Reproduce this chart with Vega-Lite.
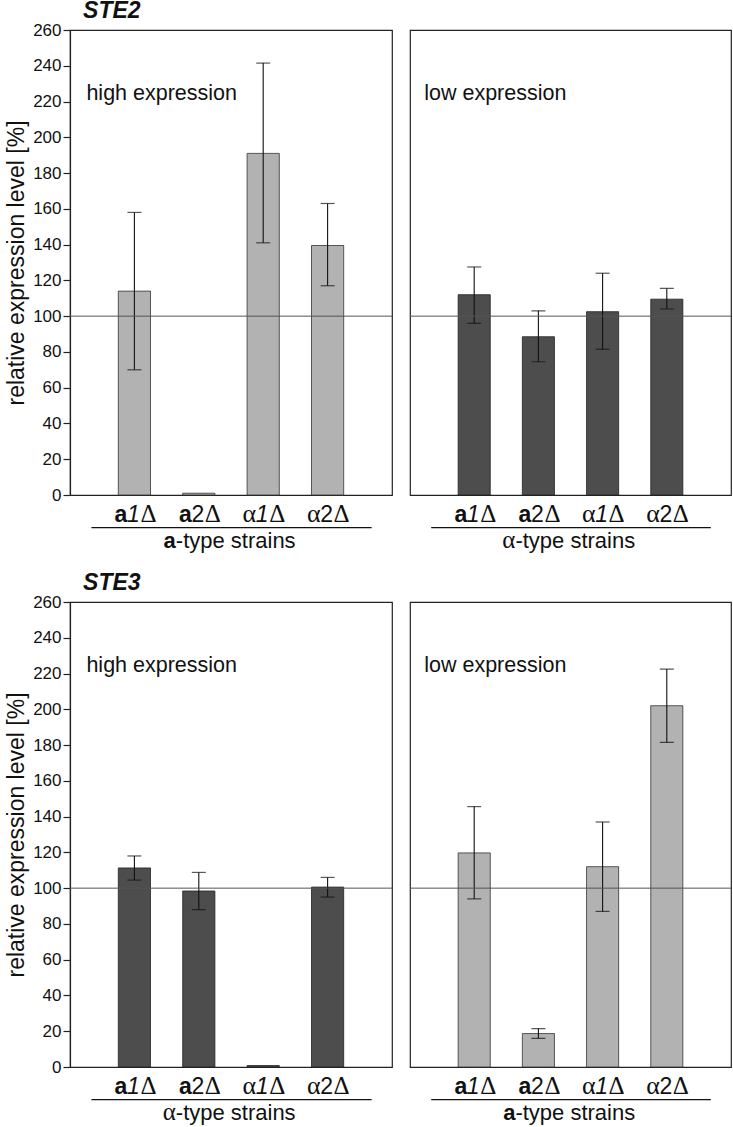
{
  "$schema": "https://vega.github.io/schema/vega-lite/v6.json",
  "padding": {"left": 5, "top": 0, "right": 0, "bottom": 0},
  "config": {
    "font": "Liberation Sans",
    "view": {"stroke": "#222", "strokeWidth": 1.2},
    "concat": {"spacing": 14},
    "axisY": {"labelOverlap": false}
  },
  "datasets": {
    "strains": [
      {"strain": "a1Δ", "pre": "a", "num": "1"},
      {"strain": "a2Δ", "pre": "a", "num": "2"},
      {"strain": "α1Δ", "pre": "α", "num": "1"},
      {"strain": "α2Δ", "pre": "α", "num": "2"}
    ],
    "ste2_high": [
      {"strain": "a1Δ", "value": 114, "lo": 70, "hi": 158},
      {"strain": "a2Δ", "value": 1, "lo": null, "hi": null},
      {"strain": "α1Δ", "value": 191, "lo": 141, "hi": 241.5},
      {"strain": "α2Δ", "value": 139.5, "lo": 117, "hi": 163}
    ],
    "ste2_low": [
      {"strain": "a1Δ", "value": 112, "lo": 96, "hi": 127.5},
      {"strain": "a2Δ", "value": 88.5, "lo": 74.5, "hi": 103},
      {"strain": "α1Δ", "value": 102.5, "lo": 81.5, "hi": 124},
      {"strain": "α2Δ", "value": 109.5, "lo": 104, "hi": 115.5}
    ],
    "ste3_high": [
      {"strain": "a1Δ", "value": 111.3, "lo": 104.5, "hi": 118},
      {"strain": "a2Δ", "value": 98.4, "lo": 88, "hi": 108.8},
      {"strain": "α1Δ", "value": 0.8, "lo": null, "hi": null},
      {"strain": "α2Δ", "value": 100.6, "lo": 95, "hi": 106}
    ],
    "ste3_low": [
      {"strain": "a1Δ", "value": 119.7, "lo": 94, "hi": 145.6},
      {"strain": "a2Δ", "value": 18.7, "lo": 16, "hi": 21.5},
      {"strain": "α1Δ", "value": 112, "lo": 87, "hi": 137},
      {"strain": "α2Δ", "value": 202, "lo": 181.5, "hi": 222.5}
    ]
  },
  "spacing": 18,
  "vconcat": [
    {
      "title": {"text": "STE2", "anchor": "start", "fontSize": 23, "fontWeight": "bold", "fontStyle": "italic", "color": "#111", "dx": 78, "offset": -3},
      "spacing": 14,
      "hconcat": [
        {
          "width": 322, "height": 465,
          "resolve": {"scale": {"y": "shared"}, "axis": {"y": "independent"}},
          "layer": [
            {"data": {"name": "ste2_high"}, "mark": {"type": "bar", "fill": "#b2b2b2", "stroke": "#333", "strokeWidth": 0.8},
             "encoding": {"x": {"field": "strain", "type": "nominal", "sort": null, "scale": {"domain": ["a1Δ", "a2Δ", "α1Δ", "α2Δ"], "paddingInner": 0.5, "paddingOuter": 0.75}, "axis": null},
                          "y": {"field": "value", "type": "quantitative", "scale": {"domain": [0, 260], "nice": false}, "axis": {"values": [0,20,40,60,80,100,120,140,160,180,200,220,240,260], "labelOverlap": false, "grid": false, "tickSize": 7, "tickWidth": 1.2, "tickColor": "#222", "domainColor": "#222", "domainWidth": 1.2, "labelFontSize": 17, "labelPadding": 2, "labelColor": "#111", "title": "relative expression level [%]", "titleFontSize": 23, "titleFontWeight": "normal", "titleColor": "#111", "titlePadding": 4}}}},
            {"data": {"name": "ste2_high"}, "mark": {"type": "rule", "color": "#111", "strokeWidth": 1.1},
             "encoding": {"x": {"field": "strain", "type": "nominal"}, "y": {"field": "lo", "type": "quantitative", "axis": null}, "y2": {"field": "hi"}}},
            {"data": {"name": "ste2_high"}, "mark": {"type": "tick", "color": "#111", "size": 14, "thickness": 1.2},
             "encoding": {"x": {"field": "strain", "type": "nominal"}, "y": {"field": "lo", "type": "quantitative", "axis": null}}},
            {"data": {"name": "ste2_high"}, "mark": {"type": "tick", "color": "#111", "size": 14, "thickness": 1.2},
             "encoding": {"x": {"field": "strain", "type": "nominal"}, "y": {"field": "hi", "type": "quantitative", "axis": null}}},
            {"data": {"values": [{"ref": 100}]}, "mark": {"type": "rule", "color": "#555", "strokeWidth": 1},
             "encoding": {"y": {"field": "ref", "type": "quantitative", "axis": null}}},
            {"data": {"values": [{"note": "high expression"}]}, "mark": {"type": "text", "align": "left", "baseline": "alphabetic", "fontSize": 21.5, "dx": -48, "color": "#111"},
             "encoding": {"x": {"datum": "a1Δ", "type": "nominal"}, "y": {"datum": 221, "type": "quantitative", "axis": null}, "text": {"field": "note"}}},
            {"data": {"name": "strains"}, "transform": [{"filter": "datum.pre == 'a'"}], "mark": {"type": "text", "align": "right", "baseline": "alphabetic", "fontSize": 23, "fontWeight": "bold", "dx": -7, "color": "#111"},
             "encoding": {"x": {"field": "strain", "type": "nominal"}, "y": {"datum": -14.9, "type": "quantitative", "axis": null}, "text": {"field": "pre"}}},
            {"data": {"name": "strains"}, "transform": [{"filter": "datum.pre == 'α'"}], "mark": {"type": "text", "align": "right", "baseline": "alphabetic", "fontSize": 26, "font": "Liberation Serif", "dx": -7, "color": "#111"},
             "encoding": {"x": {"field": "strain", "type": "nominal"}, "y": {"datum": -14.9, "type": "quantitative", "axis": null}, "text": {"field": "pre"}}},
            {"data": {"name": "strains"}, "transform": [{"filter": "datum.num == '1'"}], "mark": {"type": "text", "align": "center", "baseline": "alphabetic", "fontSize": 23, "fontStyle": "italic", "dx": -1, "color": "#111"},
             "encoding": {"x": {"field": "strain", "type": "nominal"}, "y": {"datum": -14.9, "type": "quantitative", "axis": null}, "text": {"field": "num"}}},
            {"data": {"name": "strains"}, "transform": [{"filter": "datum.num == '2'"}], "mark": {"type": "text", "align": "center", "baseline": "alphabetic", "fontSize": 23, "dx": -1, "color": "#111"},
             "encoding": {"x": {"field": "strain", "type": "nominal"}, "y": {"datum": -14.9, "type": "quantitative", "axis": null}, "text": {"field": "num"}}},
            {"data": {"name": "strains"}, "mark": {"type": "text", "align": "left", "baseline": "alphabetic", "fontSize": 25, "font": "Liberation Serif", "dx": 6, "color": "#111"},
             "encoding": {"x": {"field": "strain", "type": "nominal"}, "y": {"datum": -14.9, "type": "quantitative", "axis": null}, "text": {"value": "Δ"}}},
            {"data": {"values": [{"from": "a1Δ", "to": "α2Δ"}]}, "mark": {"type": "rule", "color": "#111", "strokeWidth": 1.2, "xOffset": -43, "x2Offset": 44},
             "encoding": {"x": {"field": "from", "type": "nominal"}, "x2": {"field": "to"}, "y": {"datum": -18.2, "type": "quantitative", "axis": null}}},
            {"data": {"values": [{"pre": "a", "rest": "-type strains", "at": "a2Δ"}]}, "mark": {"type": "text", "align": "right", "baseline": "alphabetic", "fontSize": 22, "fontWeight": "bold", "dx": -23, "color": "#111"},
             "encoding": {"x": {"field": "at", "type": "nominal"}, "y": {"datum": -29.4, "type": "quantitative", "axis": null}, "text": {"field": "pre"}}},
            {"data": {"values": [{"pre": "a", "rest": "-type strains", "at": "a2Δ"}]}, "mark": {"type": "text", "align": "left", "baseline": "alphabetic", "fontSize": 22, "dx": -23, "color": "#111"},
             "encoding": {"x": {"field": "at", "type": "nominal"}, "y": {"datum": -29.4, "type": "quantitative", "axis": null}, "text": {"field": "rest"}}}
          ]
        },
        {
          "width": 321, "height": 465,
          "layer": [
            {"data": {"name": "ste2_low"}, "mark": {"type": "bar", "fill": "#4d4d4d", "stroke": "#222", "strokeWidth": 0.8},
             "encoding": {"x": {"field": "strain", "type": "nominal", "sort": null, "scale": {"domain": ["a1Δ", "a2Δ", "α1Δ", "α2Δ"], "paddingInner": 0.5, "paddingOuter": 0.75}, "axis": null},
                          "y": {"field": "value", "type": "quantitative", "scale": {"domain": [0, 260], "nice": false}, "axis": null}}},
            {"data": {"name": "ste2_low"}, "mark": {"type": "rule", "color": "#111", "strokeWidth": 1.1},
             "encoding": {"x": {"field": "strain", "type": "nominal"}, "y": {"field": "lo", "type": "quantitative", "axis": null}, "y2": {"field": "hi"}}},
            {"data": {"name": "ste2_low"}, "mark": {"type": "tick", "color": "#111", "size": 14, "thickness": 1.2},
             "encoding": {"x": {"field": "strain", "type": "nominal"}, "y": {"field": "lo", "type": "quantitative", "axis": null}}},
            {"data": {"name": "ste2_low"}, "mark": {"type": "tick", "color": "#111", "size": 14, "thickness": 1.2},
             "encoding": {"x": {"field": "strain", "type": "nominal"}, "y": {"field": "hi", "type": "quantitative", "axis": null}}},
            {"data": {"values": [{"ref": 100}]}, "mark": {"type": "rule", "color": "#555", "strokeWidth": 1},
             "encoding": {"y": {"field": "ref", "type": "quantitative", "axis": null}}},
            {"data": {"values": [{"note": "low expression"}]}, "mark": {"type": "text", "align": "left", "baseline": "alphabetic", "fontSize": 21.5, "dx": -50, "color": "#111"},
             "encoding": {"x": {"datum": "a1Δ", "type": "nominal"}, "y": {"datum": 221, "type": "quantitative", "axis": null}, "text": {"field": "note"}}},
            {"data": {"name": "strains"}, "transform": [{"filter": "datum.pre == 'a'"}], "mark": {"type": "text", "align": "right", "baseline": "alphabetic", "fontSize": 23, "fontWeight": "bold", "dx": -7, "color": "#111"},
             "encoding": {"x": {"field": "strain", "type": "nominal"}, "y": {"datum": -14.9, "type": "quantitative", "axis": null}, "text": {"field": "pre"}}},
            {"data": {"name": "strains"}, "transform": [{"filter": "datum.pre == 'α'"}], "mark": {"type": "text", "align": "right", "baseline": "alphabetic", "fontSize": 26, "font": "Liberation Serif", "dx": -7, "color": "#111"},
             "encoding": {"x": {"field": "strain", "type": "nominal"}, "y": {"datum": -14.9, "type": "quantitative", "axis": null}, "text": {"field": "pre"}}},
            {"data": {"name": "strains"}, "transform": [{"filter": "datum.num == '1'"}], "mark": {"type": "text", "align": "center", "baseline": "alphabetic", "fontSize": 23, "fontStyle": "italic", "dx": -1, "color": "#111"},
             "encoding": {"x": {"field": "strain", "type": "nominal"}, "y": {"datum": -14.9, "type": "quantitative", "axis": null}, "text": {"field": "num"}}},
            {"data": {"name": "strains"}, "transform": [{"filter": "datum.num == '2'"}], "mark": {"type": "text", "align": "center", "baseline": "alphabetic", "fontSize": 23, "dx": -1, "color": "#111"},
             "encoding": {"x": {"field": "strain", "type": "nominal"}, "y": {"datum": -14.9, "type": "quantitative", "axis": null}, "text": {"field": "num"}}},
            {"data": {"name": "strains"}, "mark": {"type": "text", "align": "left", "baseline": "alphabetic", "fontSize": 25, "font": "Liberation Serif", "dx": 6, "color": "#111"},
             "encoding": {"x": {"field": "strain", "type": "nominal"}, "y": {"datum": -14.9, "type": "quantitative", "axis": null}, "text": {"value": "Δ"}}},
            {"data": {"values": [{"from": "a1Δ", "to": "α2Δ"}]}, "mark": {"type": "rule", "color": "#111", "strokeWidth": 1.2, "xOffset": -43, "x2Offset": 44},
             "encoding": {"x": {"field": "from", "type": "nominal"}, "x2": {"field": "to"}, "y": {"datum": -18.2, "type": "quantitative", "axis": null}}},
            {"data": {"values": [{"pre": "α", "rest": "-type strains", "at": "a2Δ"}]}, "mark": {"type": "text", "align": "right", "baseline": "alphabetic", "fontSize": 25, "font": "Liberation Serif", "dx": -23, "color": "#111"},
             "encoding": {"x": {"field": "at", "type": "nominal"}, "y": {"datum": -29.4, "type": "quantitative", "axis": null}, "text": {"field": "pre"}}},
            {"data": {"values": [{"pre": "α", "rest": "-type strains", "at": "a2Δ"}]}, "mark": {"type": "text", "align": "left", "baseline": "alphabetic", "fontSize": 22, "dx": -23, "color": "#111"},
             "encoding": {"x": {"field": "at", "type": "nominal"}, "y": {"datum": -29.4, "type": "quantitative", "axis": null}, "text": {"field": "rest"}}}
          ]
        }
      ]
    },
    {
      "title": {"text": "STE3", "anchor": "start", "fontSize": 23, "fontWeight": "bold", "fontStyle": "italic", "color": "#111", "dx": 78, "offset": -3},
      "spacing": 14,
      "hconcat": [
        {
          "width": 322, "height": 465,
          "resolve": {"scale": {"y": "shared"}, "axis": {"y": "independent"}},
          "layer": [
            {"data": {"name": "ste3_high"}, "mark": {"type": "bar", "fill": "#4d4d4d", "stroke": "#222", "strokeWidth": 0.8},
             "encoding": {"x": {"field": "strain", "type": "nominal", "sort": null, "scale": {"domain": ["a1Δ", "a2Δ", "α1Δ", "α2Δ"], "paddingInner": 0.5, "paddingOuter": 0.75}, "axis": null},
                          "y": {"field": "value", "type": "quantitative", "scale": {"domain": [0, 260], "nice": false}, "axis": {"values": [0,20,40,60,80,100,120,140,160,180,200,220,240,260], "labelOverlap": false, "grid": false, "tickSize": 7, "tickWidth": 1.2, "tickColor": "#222", "domainColor": "#222", "domainWidth": 1.2, "labelFontSize": 17, "labelPadding": 2, "labelColor": "#111", "title": "relative expression level [%]", "titleFontSize": 23, "titleFontWeight": "normal", "titleColor": "#111", "titlePadding": 4}}}},
            {"data": {"name": "ste3_high"}, "mark": {"type": "rule", "color": "#111", "strokeWidth": 1.1},
             "encoding": {"x": {"field": "strain", "type": "nominal"}, "y": {"field": "lo", "type": "quantitative", "axis": null}, "y2": {"field": "hi"}}},
            {"data": {"name": "ste3_high"}, "mark": {"type": "tick", "color": "#111", "size": 14, "thickness": 1.2},
             "encoding": {"x": {"field": "strain", "type": "nominal"}, "y": {"field": "lo", "type": "quantitative", "axis": null}}},
            {"data": {"name": "ste3_high"}, "mark": {"type": "tick", "color": "#111", "size": 14, "thickness": 1.2},
             "encoding": {"x": {"field": "strain", "type": "nominal"}, "y": {"field": "hi", "type": "quantitative", "axis": null}}},
            {"data": {"values": [{"ref": 100}]}, "mark": {"type": "rule", "color": "#555", "strokeWidth": 1},
             "encoding": {"y": {"field": "ref", "type": "quantitative", "axis": null}}},
            {"data": {"values": [{"note": "high expression"}]}, "mark": {"type": "text", "align": "left", "baseline": "alphabetic", "fontSize": 21.5, "dx": -48, "color": "#111"},
             "encoding": {"x": {"datum": "a1Δ", "type": "nominal"}, "y": {"datum": 221, "type": "quantitative", "axis": null}, "text": {"field": "note"}}},
            {"data": {"name": "strains"}, "transform": [{"filter": "datum.pre == 'a'"}], "mark": {"type": "text", "align": "right", "baseline": "alphabetic", "fontSize": 23, "fontWeight": "bold", "dx": -7, "color": "#111"},
             "encoding": {"x": {"field": "strain", "type": "nominal"}, "y": {"datum": -14.9, "type": "quantitative", "axis": null}, "text": {"field": "pre"}}},
            {"data": {"name": "strains"}, "transform": [{"filter": "datum.pre == 'α'"}], "mark": {"type": "text", "align": "right", "baseline": "alphabetic", "fontSize": 26, "font": "Liberation Serif", "dx": -7, "color": "#111"},
             "encoding": {"x": {"field": "strain", "type": "nominal"}, "y": {"datum": -14.9, "type": "quantitative", "axis": null}, "text": {"field": "pre"}}},
            {"data": {"name": "strains"}, "transform": [{"filter": "datum.num == '1'"}], "mark": {"type": "text", "align": "center", "baseline": "alphabetic", "fontSize": 23, "fontStyle": "italic", "dx": -1, "color": "#111"},
             "encoding": {"x": {"field": "strain", "type": "nominal"}, "y": {"datum": -14.9, "type": "quantitative", "axis": null}, "text": {"field": "num"}}},
            {"data": {"name": "strains"}, "transform": [{"filter": "datum.num == '2'"}], "mark": {"type": "text", "align": "center", "baseline": "alphabetic", "fontSize": 23, "dx": -1, "color": "#111"},
             "encoding": {"x": {"field": "strain", "type": "nominal"}, "y": {"datum": -14.9, "type": "quantitative", "axis": null}, "text": {"field": "num"}}},
            {"data": {"name": "strains"}, "mark": {"type": "text", "align": "left", "baseline": "alphabetic", "fontSize": 25, "font": "Liberation Serif", "dx": 6, "color": "#111"},
             "encoding": {"x": {"field": "strain", "type": "nominal"}, "y": {"datum": -14.9, "type": "quantitative", "axis": null}, "text": {"value": "Δ"}}},
            {"data": {"values": [{"from": "a1Δ", "to": "α2Δ"}]}, "mark": {"type": "rule", "color": "#111", "strokeWidth": 1.2, "xOffset": -43, "x2Offset": 44},
             "encoding": {"x": {"field": "from", "type": "nominal"}, "x2": {"field": "to"}, "y": {"datum": -18.2, "type": "quantitative", "axis": null}}},
            {"data": {"values": [{"pre": "α", "rest": "-type strains", "at": "a2Δ"}]}, "mark": {"type": "text", "align": "right", "baseline": "alphabetic", "fontSize": 25, "font": "Liberation Serif", "dx": -23, "color": "#111"},
             "encoding": {"x": {"field": "at", "type": "nominal"}, "y": {"datum": -29.4, "type": "quantitative", "axis": null}, "text": {"field": "pre"}}},
            {"data": {"values": [{"pre": "α", "rest": "-type strains", "at": "a2Δ"}]}, "mark": {"type": "text", "align": "left", "baseline": "alphabetic", "fontSize": 22, "dx": -23, "color": "#111"},
             "encoding": {"x": {"field": "at", "type": "nominal"}, "y": {"datum": -29.4, "type": "quantitative", "axis": null}, "text": {"field": "rest"}}}
          ]
        },
        {
          "width": 321, "height": 465,
          "layer": [
            {"data": {"name": "ste3_low"}, "mark": {"type": "bar", "fill": "#b2b2b2", "stroke": "#333", "strokeWidth": 0.8},
             "encoding": {"x": {"field": "strain", "type": "nominal", "sort": null, "scale": {"domain": ["a1Δ", "a2Δ", "α1Δ", "α2Δ"], "paddingInner": 0.5, "paddingOuter": 0.75}, "axis": null},
                          "y": {"field": "value", "type": "quantitative", "scale": {"domain": [0, 260], "nice": false}, "axis": null}}},
            {"data": {"name": "ste3_low"}, "mark": {"type": "rule", "color": "#111", "strokeWidth": 1.1},
             "encoding": {"x": {"field": "strain", "type": "nominal"}, "y": {"field": "lo", "type": "quantitative", "axis": null}, "y2": {"field": "hi"}}},
            {"data": {"name": "ste3_low"}, "mark": {"type": "tick", "color": "#111", "size": 14, "thickness": 1.2},
             "encoding": {"x": {"field": "strain", "type": "nominal"}, "y": {"field": "lo", "type": "quantitative", "axis": null}}},
            {"data": {"name": "ste3_low"}, "mark": {"type": "tick", "color": "#111", "size": 14, "thickness": 1.2},
             "encoding": {"x": {"field": "strain", "type": "nominal"}, "y": {"field": "hi", "type": "quantitative", "axis": null}}},
            {"data": {"values": [{"ref": 100}]}, "mark": {"type": "rule", "color": "#555", "strokeWidth": 1},
             "encoding": {"y": {"field": "ref", "type": "quantitative", "axis": null}}},
            {"data": {"values": [{"note": "low expression"}]}, "mark": {"type": "text", "align": "left", "baseline": "alphabetic", "fontSize": 21.5, "dx": -50, "color": "#111"},
             "encoding": {"x": {"datum": "a1Δ", "type": "nominal"}, "y": {"datum": 221, "type": "quantitative", "axis": null}, "text": {"field": "note"}}},
            {"data": {"name": "strains"}, "transform": [{"filter": "datum.pre == 'a'"}], "mark": {"type": "text", "align": "right", "baseline": "alphabetic", "fontSize": 23, "fontWeight": "bold", "dx": -7, "color": "#111"},
             "encoding": {"x": {"field": "strain", "type": "nominal"}, "y": {"datum": -14.9, "type": "quantitative", "axis": null}, "text": {"field": "pre"}}},
            {"data": {"name": "strains"}, "transform": [{"filter": "datum.pre == 'α'"}], "mark": {"type": "text", "align": "right", "baseline": "alphabetic", "fontSize": 26, "font": "Liberation Serif", "dx": -7, "color": "#111"},
             "encoding": {"x": {"field": "strain", "type": "nominal"}, "y": {"datum": -14.9, "type": "quantitative", "axis": null}, "text": {"field": "pre"}}},
            {"data": {"name": "strains"}, "transform": [{"filter": "datum.num == '1'"}], "mark": {"type": "text", "align": "center", "baseline": "alphabetic", "fontSize": 23, "fontStyle": "italic", "dx": -1, "color": "#111"},
             "encoding": {"x": {"field": "strain", "type": "nominal"}, "y": {"datum": -14.9, "type": "quantitative", "axis": null}, "text": {"field": "num"}}},
            {"data": {"name": "strains"}, "transform": [{"filter": "datum.num == '2'"}], "mark": {"type": "text", "align": "center", "baseline": "alphabetic", "fontSize": 23, "dx": -1, "color": "#111"},
             "encoding": {"x": {"field": "strain", "type": "nominal"}, "y": {"datum": -14.9, "type": "quantitative", "axis": null}, "text": {"field": "num"}}},
            {"data": {"name": "strains"}, "mark": {"type": "text", "align": "left", "baseline": "alphabetic", "fontSize": 25, "font": "Liberation Serif", "dx": 6, "color": "#111"},
             "encoding": {"x": {"field": "strain", "type": "nominal"}, "y": {"datum": -14.9, "type": "quantitative", "axis": null}, "text": {"value": "Δ"}}},
            {"data": {"values": [{"from": "a1Δ", "to": "α2Δ"}]}, "mark": {"type": "rule", "color": "#111", "strokeWidth": 1.2, "xOffset": -43, "x2Offset": 44},
             "encoding": {"x": {"field": "from", "type": "nominal"}, "x2": {"field": "to"}, "y": {"datum": -18.2, "type": "quantitative", "axis": null}}},
            {"data": {"values": [{"pre": "a", "rest": "-type strains", "at": "a2Δ"}]}, "mark": {"type": "text", "align": "right", "baseline": "alphabetic", "fontSize": 22, "fontWeight": "bold", "dx": -23, "color": "#111"},
             "encoding": {"x": {"field": "at", "type": "nominal"}, "y": {"datum": -29.4, "type": "quantitative", "axis": null}, "text": {"field": "pre"}}},
            {"data": {"values": [{"pre": "a", "rest": "-type strains", "at": "a2Δ"}]}, "mark": {"type": "text", "align": "left", "baseline": "alphabetic", "fontSize": 22, "dx": -23, "color": "#111"},
             "encoding": {"x": {"field": "at", "type": "nominal"}, "y": {"datum": -29.4, "type": "quantitative", "axis": null}, "text": {"field": "rest"}}}
          ]
        }
      ]
    }
  ]
}
